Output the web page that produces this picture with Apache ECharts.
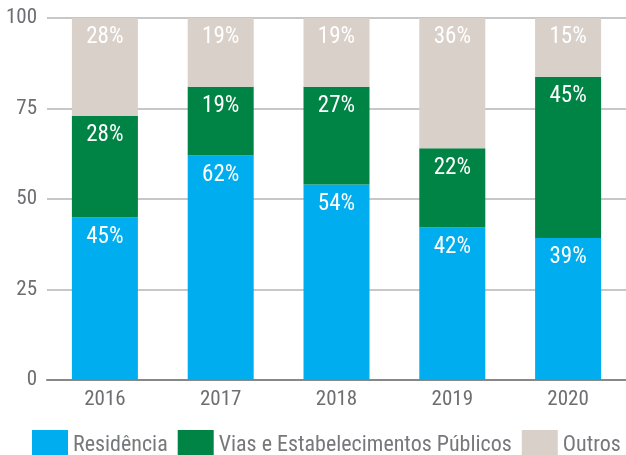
<!DOCTYPE html>
<html>
<head>
<meta charset="utf-8">
<script src="https://cdn.jsdelivr.net/npm/echarts@6/dist/echarts.min.js"></script>
<style>
html,body{margin:0;padding:0;background:#fff;}
#c{width:626px;height:455px;}
</style>
</head>
<body>
<div id="c"></div>
<script>
var categories = ['2016', '2017', '2018', '2019', '2020'];
var residencia = [44.9, 62.0, 54.0, 42.1, 39.2];
var vias = [28.1, 19.0, 27.0, 21.9, 44.6];
var outros = [27.0, 19.0, 19.0, 36.0, 16.2];
var residenciaLabels = [45, 62, 54, 42, 39];
var viasLabels = [28, 19, 27, 22, 45];
var outrosLabels = [28, 19, 19, 36, 15];
var yTicks = [0, 25, 50, 75, 100];

var FONT = '"Roboto Condensed", "Liberation Sans Narrow", "DejaVu Sans Condensed", sans-serif';

function mk(name, data, labels, color) {
  return {
    name: name,
    type: 'bar',
    stack: 'total',
    barWidth: 66,
    data: data,
    itemStyle: { color: color },
    label: {
      show: true,
      position: 'insideTop',
      distance: 8,
      color: '#fff',
      fontFamily: FONT,
      fontSize: 23,
      formatter: function (p) { return labels[p.dataIndex] + '%'; }
    },
    emphasis: { disabled: true }
  };
}

var chart = echarts.init(document.getElementById('c'), null, { renderer: 'canvas' });
chart.setOption({
  animation: false,
  backgroundColor: '#fff',
  textStyle: { fontFamily: FONT },
  grid: { left: 47, right: -2, top: 18, bottom: 75, containLabel: false },
  legend: {
    left: 27,
    top: 425,
    width: 800,
    itemWidth: 36,
    itemHeight: 30,
    itemGap: 10,
    icon: 'rect',
    textStyle: { color: '#77787b', fontSize: 22, fontFamily: FONT },
    data: ['Residência', 'Vias e Estabelecimentos Públicos', 'Outros']
  },
  xAxis: {
    type: 'category',
    data: categories,
    axisLine: { show: true, lineStyle: { color: '#888', width: 2 } },
    axisTick: { show: false },
    axisLabel: { color: '#6d6e71', fontSize: 21, fontFamily: FONT, margin: 9 }
  },
  yAxis: {
    type: 'value',
    min: yTicks[0],
    max: yTicks[yTicks.length - 1],
    interval: 25,
    axisLine: { show: false },
    axisTick: { show: false },
    splitLine: { lineStyle: { color: '#b5b5b5', width: 1.5 } },
    axisLabel: { color: '#6d6e71', fontSize: 21, fontFamily: FONT, margin: 10 }
  },
  series: [
    mk('Residência', residencia, residenciaLabels, '#00aeef'),
    mk('Vias e Estabelecimentos Públicos', vias, viasLabels, '#008445'),
    mk('Outros', outros, outrosLabels, '#d9d0ca')
  ]
});
</script>
</body>
</html>
